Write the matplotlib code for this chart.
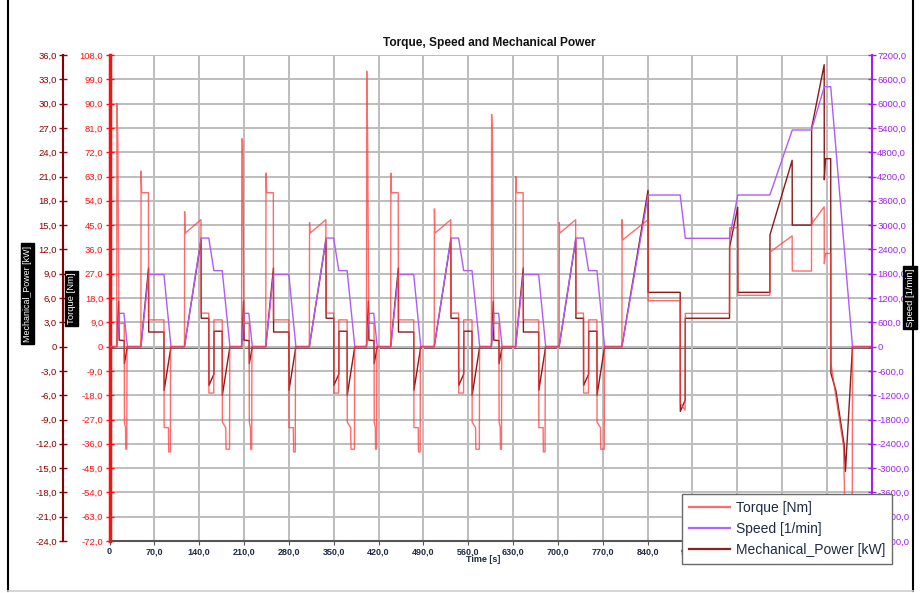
import matplotlib
matplotlib.use('Agg')
import matplotlib.pyplot as plt
from matplotlib.lines import Line2D
from matplotlib.ticker import FixedLocator, FuncFormatter

plt.rcParams['font.family'] = ['Liberation Sans', 'DejaVu Sans']

# ---------------- data ----------------
title = "Torque, Speed and Mechanical Power"
xlabel = "Time [s]"
label_torque = "Torque [Nm]"
label_speed = "Speed [1/min]"
label_power = "Mechanical_Power [kW]"

# urban (ECE) sub-cycle start times [s]
cycle_starts = [0, 195, 390, 585]

# torque knots inside one urban sub-cycle (relative time, s)
ece_torque_t = [0, 11.2, 11.6, 13.0, 14.6, 15.0, 23.0, 23.3, 25.0, 25.4, 27.0, 27.4,
                49.0, 49.3, 50.3, 60.8, 61.0, 85.0, 85.3, 92.0, 92.4, 95.0, 95.4,
                117.0, 117.3, 118.0, 142.8, 143.0, 155.0, 155.2, 162.8, 163.0, 176.0, 176.2,
                181.5, 182.0, 187.4, 187.8, 195.0]
ece_torque_1 = [0, 0, 90, 76, 14, 8.6, 8.6, -28, -30, -38, -38, 0,
                0, 65, 57, 57, 9.9, 9.9, -30, -30, -39, -39, 0,
                0, 50, 42, 47, 12.4, 12.4, -17.2, -17.2, 9.9, 9.9, -28, -30, -38, -38, 0, 0]
ece_torque_2 = [0, 0, 77, 76, 14, 8.6, 8.6, -28, -30, -38, -38, 0,
                0, 64.3, 57, 57, 9.9, 9.9, -30, -30, -39, -39, 0,
                0, 46, 42, 47, 12.4, 12.4, -17.2, -17.2, 9.9, 9.9, -28, -30, -38, -38, 0, 0]
ece_torque_3 = [0, 0, 102, 76, 14, 8.6, 8.6, -28, -30, -38, -38, 0,
                0, 64.2, 57, 57, 9.9, 9.9, -30, -30, -39, -39, 0,
                0, 51, 42, 47, 12.4, 12.4, -17.2, -17.2, 9.9, 9.9, -28, -30, -38, -38, 0, 0]
ece_torque_4 = [0, 0, 86, 76, 14, 8.6, 8.6, -28, -30, -38, -38, 0,
                0, 63, 57, 57, 9.9, 9.9, -30, -30, -39, -39, 0,
                0, 46, 42, 47, 12.4, 12.4, -17.2, -17.2, 9.9, 9.9, -28, -30, -38, -38, 0, 0]

ece_power_t = [0, 11.2, 12.0, 14.2, 15.0, 23.0, 23.3, 28.0,
               49.0, 61.0, 61.2, 85.0, 85.3, 96.0,
               117.0, 143.0, 143.2, 155.0, 155.2, 163.0, 163.2, 176.0, 176.2, 188.0, 195.0]
ece_power_1 = [0, 0, 1.0, 5.6, 0.8, 0.74, -2.1, 0,
               0, 9.7, 1.8, 1.8, -5.4, 0,
               0, 13.2, 3.5, 3.5, -4.8, -3.4, 1.9, 1.9, -6.0, 0, 0]
ece_power_2 = [0, 0, 1.0, 5.6, 0.8, 0.74, -2.1, 0,
               0, 9.7, 1.8, 1.8, -5.4, 0,
               0, 13.2, 3.5, 3.5, -4.8, -3.4, 1.9, 1.9, -6.0, 0, 0]
ece_power_3 = [0, 0, 1.0, 5.6, 0.8, 0.74, -2.1, 0,
               0, 9.7, 1.8, 1.8, -5.4, 0,
               0, 13.2, 3.5, 3.5, -4.8, -3.4, 1.9, 1.9, -6.0, 0, 0]
ece_power_4 = [0, 0, 1.0, 5.6, 0.8, 0.74, -2.1, 0,
               0, 9.7, 1.8, 1.8, -5.4, 0,
               0, 13.2, 3.5, 3.5, -4.8, -3.4, 1.9, 1.9, -6.0, 0, 0]

ece_speed_t = [0, 11.2, 15.0, 22.5, 28.0, 49.0, 61.0, 85.0, 96.0,
               117.0, 143.0, 155.0, 163.0, 176.0, 188.0, 195.0]
ece_speed_1 = [0, 0, 822, 822, 0, 0, 1780, 1780, 0, 0, 2680, 2680, 1876, 1876, 0, 0]
ece_speed_2 = [0, 0, 822, 822, 0, 0, 1780, 1780, 0, 0, 2680, 2680, 1876, 1876, 0, 0]
ece_speed_3 = [0, 0, 822, 822, 0, 0, 1780, 1780, 0, 0, 2680, 2680, 1876, 1876, 0, 0]
ece_speed_4 = [0, 0, 822, 822, 0, 0, 1780, 1780, 0, 0, 2680, 2680, 1876, 1876, 0, 0]

# extra-urban part (absolute time, s)
eudc_torque_t = [780, 800, 800.3, 801, 840.8, 841, 891, 891.2, 898.6, 899,
                 968, 968.2, 980.8, 981, 1031, 1031.2, 1065.8, 1066,
                 1096, 1096.2, 1097, 1115.8, 1116, 1118, 1126, 1126.3,
                 1131, 1146, 1149, 1151, 1159.6, 1160, 1190]
eudc_torque = [0, 0, 47, 39.5, 47, 17, 17, -21, -23.5, 12.3,
               12.3, 44, 44, 19, 19, 35, 41, 28,
               28, 48, 45.7, 51.8, 30.7, 34.5, 34.5, -6,
               -13.6, -37, -69, -80, -80, 0, 0]
eudc_power_t = [780, 800, 840.8, 841, 891, 891.2, 898.8, 899, 968, 968.2,
                980.8, 981, 1031, 1031.2, 1065.8, 1066, 1096, 1096.2,
                1115.8, 1116, 1118, 1126, 1126.3, 1134, 1147, 1149, 1160, 1190]
eudc_power = [0, 0, 19.3, 6.7, 6.7, -8.0, -6.6, 3.5, 3.5, 12.3,
              17.2, 6.7, 6.7, 13.8, 23.0, 15.0, 15.0, 27.0,
              34.8, 20.6, 23.2, 23.2, -3.3, -5.4, -12.1, -15.4, 0, 0]
eudc_speed_t = [780, 800, 841, 891, 899, 968, 981, 1031, 1066, 1096, 1116, 1126, 1160, 1190]
eudc_speed = [0, 0, 3743, 3743, 2674, 2674, 3743, 3743, 5348, 5348, 6417, 6417, 0, 0]

x_ticks = [0, 70, 140, 210, 280, 350, 420, 490, 560, 630, 700, 770, 840, 910, 980, 1050, 1120]
x_hidden = [980, 1050, 1120]   # labels fully covered by the legend in the reference
torque_ticks = [-72, -63, -54, -45, -36, -27, -18, -9, 0, 9, 18, 27, 36, 45, 54, 63, 72, 81, 90, 99, 108]
power_ticks = [-24, -21, -18, -15, -12, -9, -6, -3, 0, 3, 6, 9, 12, 15, 18, 21, 24, 27, 30, 33, 36]
speed_ticks = [-4800, -4200, -3600, -3000, -2400, -1800, -1200, -600, 0, 600, 1200, 1800,
               2400, 3000, 3600, 4200, 4800, 5400, 6000, 6600, 7200]


def build(rel_t, per_cycle, tail_t, tail_v):
    ts, vs = [], []
    for start, vals in zip(cycle_starts, per_cycle):
        ts += [start + t for t in rel_t]
        vs += list(vals)
    return ts + list(tail_t), vs + list(tail_v)


tq_t, tq_v = build(ece_torque_t, [ece_torque_1, ece_torque_2, ece_torque_3, ece_torque_4],
                   eudc_torque_t, eudc_torque)
pw_t, pw_v = build(ece_power_t, [ece_power_1, ece_power_2, ece_power_3, ece_power_4],
                   eudc_power_t, eudc_power)
sp_t, sp_v = build(ece_speed_t, [ece_speed_1, ece_speed_2, ece_speed_3, ece_speed_4],
                   eudc_speed_t, eudc_speed)

# ---------------- style ----------------
W, H = 921, 593
c_torque = '#ff3b3b'
c_power = '#8b1a1a'
c_speed = '#b05cf5'
c_torque_ax = '#ff1010'
c_power_ax = '#8b0000'
c_speed_ax = '#a020f0'
c_text = '#1f2a44'


def fmt(v, pos=None):
    if abs(v) < 1e-9:
        return '0'
    return ('%.1f' % v).replace('.', ',')


def fmt_x(v, pos=None):
    if any(abs(v - h) < 1e-9 for h in x_hidden):
        return ''
    return fmt(v)


fig = plt.figure(figsize=(W / 100, H / 100), dpi=100)
fig.patch.set_facecolor('white')
L, R, T, B = 109.5, 871.7, 55.0, 541.0
ax = fig.add_axes([L / W, 1 - B / H, (R - L) / W, (B - T) / H])
ax_p = ax.twinx()
ax_s = ax.twinx()
ax.set_zorder(1)
ax_p.set_zorder(2)
ax_s.set_zorder(3)
for a in (ax_p, ax_s):
    a.patch.set_visible(False)

ax.set_xlim(0, 1190)
ax.set_ylim(-72, 108)
ax_p.set_ylim(-24, 36)
ax_s.set_ylim(-4800, 7200)

# grid
ax.xaxis.set_major_locator(FixedLocator(x_ticks))
ax.yaxis.set_major_locator(FixedLocator(torque_ticks))
ax.grid(True, color='#bdbdbd', lw=1.4)
ax.axhline(0, color='#555555', lw=2.0, zorder=1.5)

# lines
ax_s.plot(sp_t, sp_v, color=c_speed, lw=1.0)
ax_p.plot(pw_t, pw_v, color=c_power, lw=1.0)
ax_s.plot(tq_t, [v * 7200 / 108 for v in tq_v], color=c_torque, lw=1.0, alpha=0.75)

# spines
for a in (ax, ax_p, ax_s):
    for s in a.spines.values():
        s.set_visible(False)
ax.spines['left'].set_visible(True)
ax.spines['left'].set_color(c_torque_ax)
ax.spines['left'].set_linewidth(2.5)
ax.spines['bottom'].set_visible(True)
ax.spines['bottom'].set_color('#555555')
ax.spines['bottom'].set_linewidth(1.5)

ax_p.yaxis.set_ticks_position('left')
ax_p.yaxis.set_label_position('left')
ax_p.spines['left'].set_visible(True)
ax_p.spines['left'].set_position(('axes', -(L - 63.0) / (R - L)))
ax_p.spines['left'].set_color(c_power_ax)
ax_p.spines['left'].set_linewidth(1.5)

ax_s.spines['right'].set_visible(True)
ax_s.spines['right'].set_color(c_speed_ax)
ax_s.spines['right'].set_linewidth(1.5)

# ticks
ax.xaxis.set_major_formatter(FuncFormatter(fmt_x))
ax.yaxis.set_major_formatter(FuncFormatter(fmt))
ax.tick_params(axis='x', direction='out', length=3, color='#555555', labelsize=6.5,
               labelcolor=c_text, pad=1.5)
ax.tick_params(axis='y', direction='inout', length=6, width=1, color=c_torque_ax,
               labelsize=6.8, labelcolor=c_torque_ax, pad=1.5)
for lab in ax.get_xticklabels():
    lab.set_fontweight('bold')

ax_p.yaxis.set_major_locator(FixedLocator(power_ticks))
ax_p.yaxis.set_major_formatter(FuncFormatter(fmt))
ax_p.tick_params(axis='y', direction='inout', length=6, width=1, color=c_power_ax,
                 labelsize=6.8, labelcolor=c_power_ax, pad=1.5)

ax_s.yaxis.set_major_locator(FixedLocator(speed_ticks))
ax_s.yaxis.set_major_formatter(FuncFormatter(fmt))
ax_s.tick_params(axis='y', direction='inout', length=6, width=1, color=c_speed_ax,
                 labelsize=6.8, labelcolor=c_speed_ax, pad=1.0)

# texts
fig.text(489 / W, 1 - 43 / H, title, ha='center', va='center', fontsize=8.6,
         fontweight='bold', color='#111111')
fig.text(483 / W, 1 - 560 / H, xlabel, ha='center', va='center', fontsize=6.5,
         fontweight='bold', color=c_text)
box = dict(facecolor='black', edgecolor='black', pad=1.5)
fig.text(27.5 / W, 1 - 293.5 / H, label_power, rotation=90, ha='center', va='center',
         fontsize=6.4, color='white', bbox=box)
fig.text(71.5 / W, 1 - 298.5 / H, label_torque, rotation=90, ha='center', va='center',
         fontsize=6.8, color='white', bbox=box)
fig.text(910 / W, 1 - 297.5 / H, label_speed, rotation=90, ha='center', va='center',
         fontsize=6.8, color='white', bbox=box)

# legend
handles = [Line2D([], [], color='#ff6a6a', lw=1.6),
           Line2D([], [], color='#b366ff', lw=1.6),
           Line2D([], [], color='#8b2020', lw=1.6)]
leg = fig.legend(handles, [label_torque, label_speed, label_power],
                 loc='upper left', bbox_to_anchor=(682 / W, 1 - 494 / H),
                 fontsize=10.0, frameon=True, fancybox=False, shadow=False,
                 handlelength=2.95, handletextpad=0.45, labelspacing=0.5,
                 borderpad=0.5, borderaxespad=0)
leg.get_frame().set_edgecolor('#6a6a6a')
leg.get_frame().set_linewidth(1.0)
leg.get_frame().set_facecolor('white')
leg.get_frame().set_alpha(1)
for t in leg.get_texts():
    t.set_color(c_text)
leg.set_zorder(20)

# outer frame of the page
fig.add_artist(Line2D([7.5 / W, 7.5 / W], [1 - 591 / H, 1.0], transform=fig.transFigure,
                      color='black', lw=1.5))
fig.add_artist(Line2D([912.5 / W, 912.5 / W], [1 - 591 / H, 1.0], transform=fig.transFigure,
                      color='black', lw=1.5))
fig.add_artist(Line2D([7.5 / W, 912.5 / W], [1 - 591 / H, 1 - 591 / H], transform=fig.transFigure,
                      color='#cfcfcf', lw=1.2))

fig.savefig('out.png', dpi=100)
